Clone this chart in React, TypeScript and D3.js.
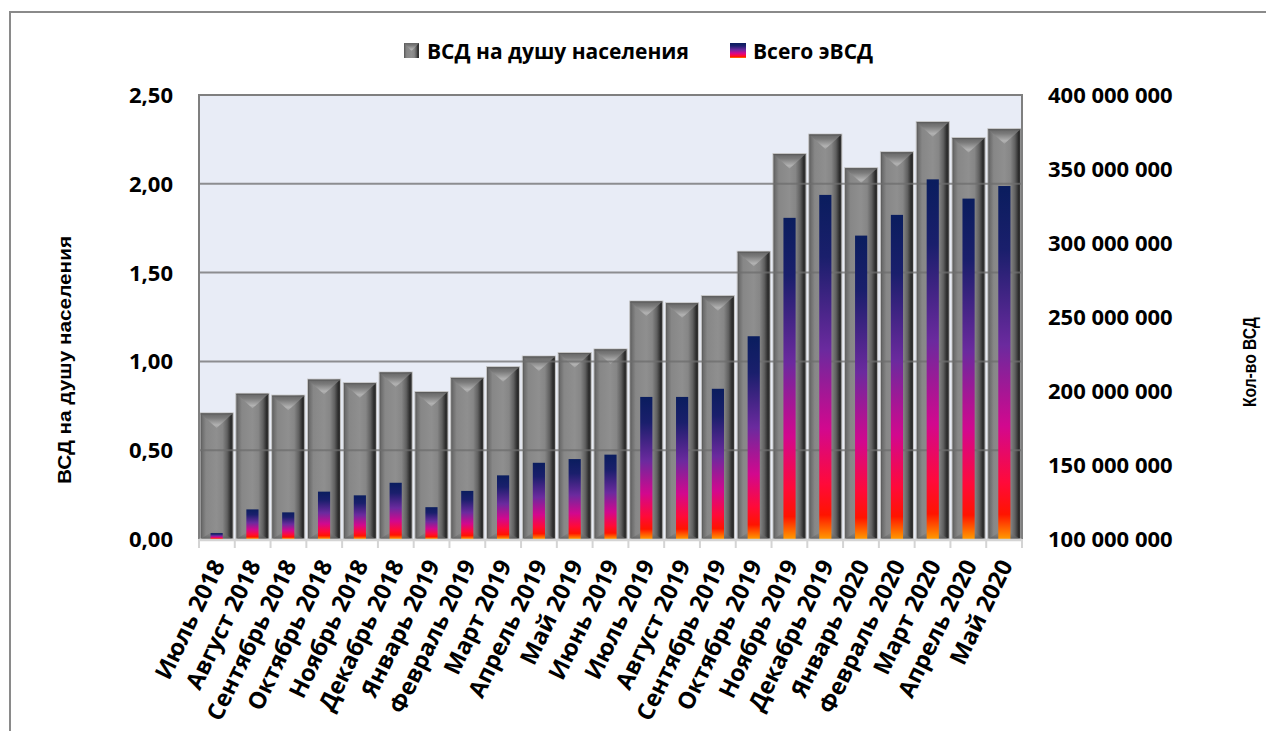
import React from "react";
import * as d3 from "d3";

const categories = [
  "Июль 2018", "Август 2018", "Сентябрь 2018", "Октябрь 2018", "Ноябрь 2018", "Декабрь 2018",
  "Январь 2019", "Февраль 2019", "Март 2019", "Апрель 2019", "Май 2019", "Июнь 2019",
  "Июль 2019", "Август 2019", "Сентябрь 2019", "Октябрь 2019", "Ноябрь 2019", "Декабрь 2019",
  "Январь 2020", "Февраль 2020", "Март 2020", "Апрель 2020", "Май 2020",
];
const perCapita = [
  0.71, 0.82, 0.81, 0.9, 0.88, 0.94, 0.83, 0.91, 0.97, 1.03, 1.05, 1.07,
  1.34, 1.33, 1.37, 1.62, 2.17, 2.28, 2.09, 2.18, 2.35, 2.26, 2.31,
];
const totalEVSD = [
  104e6, 120e6, 118e6, 132e6, 129.5e6, 138e6, 121.5e6, 132.5e6, 143e6, 151.5e6, 154e6, 157e6,
  196e6, 196e6, 201.5e6, 237e6, 317e6, 332.5e6, 305e6, 319e6, 343e6, 330e6, 338.5e6,
];
const leftTicks = [0, 0.5, 1, 1.5, 2, 2.5];
const rightTicks = [100e6, 150e6, 200e6, 250e6, 300e6, 350e6, 400e6];
const seriesNames = ["ВСД на душу населения", "Всего эВСД"];
const leftTitle = "ВСД на душу населения";
const rightTitle = "Кол-во ВСД";

const W = 1266;
const H = 731;
const plot = { left: 199, right: 1022, top: 95, bottom: 539 };
const FONT = "'Open Sans', 'Noto Sans', sans-serif";

export default function App() {
  const x = d3
    .scaleBand<string>()
    .domain(categories)
    .range([plot.left, plot.right])
    .paddingInner(0.075)
    .paddingOuter(0.03);
  const yL = d3.scaleLinear().domain([0, 2.5]).range([plot.bottom, plot.top]);
  const yR = d3.scaleLinear().domain([100e6, 400e6]).range([plot.bottom, plot.top]);
  const step = x.step();
  const bw = x.bandwidth();
  const cw = step * 0.34;
  const fmtL = (v: number) => d3.format(".2f")(v).replace(".", ",");
  const fmtR = (v: number) => d3.format(",.0f")(v).replace(/,/g, " ");
  const boundaries = d3.range(categories.length + 1).map((i) => plot.left + ((plot.right - plot.left) * i) / categories.length);

  return (
    <svg width={W} height={H} style={{ display: "block", position: "absolute", left: 0, top: 0 }}>
      <defs>
        <linearGradient id="grayH" x1="0" y1="0" x2="1" y2="0">
          <stop offset="0" stopColor="#4e4e4e" />
          <stop offset="0.06" stopColor="#6c6c6c" />
          <stop offset="0.18" stopColor="#878787" />
          <stop offset="0.5" stopColor="#8f8f8f" />
          <stop offset="0.68" stopColor="#868686" />
          <stop offset="0.82" stopColor="#606060" />
          <stop offset="0.93" stopColor="#2a2a2a" />
          <stop offset="1" stopColor="#3a3a3a" />
        </linearGradient>
        <linearGradient id="grayTop" x1="0" y1="0" x2="0" y2="1">
          <stop offset="0" stopColor="#666666" />
          <stop offset="0.3" stopColor="#7a7a7a" />
          <stop offset="0.8" stopColor="#b2b2b2" />
          <stop offset="1" stopColor="#a0a0a0" />
        </linearGradient>
        <linearGradient id="grayBot" x1="0" y1="0" x2="0" y2="1">
          <stop offset="0" stopColor="#8c8c8c" stopOpacity="0" />
          <stop offset="1" stopColor="#5a5a5a" stopOpacity="0.8" />
        </linearGradient>
        <linearGradient id="colorV" x1="0" y1="0" x2="0" y2="1">
          <stop offset="0" stopColor="#0a1d5e" />
          <stop offset="0.18" stopColor="#1a1f6c" />
          <stop offset="0.45" stopColor="#6b2a9e" />
          <stop offset="0.68" stopColor="#d2088e" />
          <stop offset="0.84" stopColor="#ff0a3a" />
          <stop offset="0.93" stopColor="#ff1400" />
          <stop offset="1" stopColor="#ff9a00" />
        </linearGradient>
      </defs>

      <rect x={0} y={0} width={W} height={H} fill="#ffffff" />
      <rect x={10} y={12} width={W + 20} height={H + 20} fill="#ffffff" stroke="#8a8a8a" strokeWidth={2} />

      {/* legend */}
      <g fontFamily={FONT} fontWeight="bold" fontSize={21} fill="#000">
        <rect x={404} y={43} width={15} height={15} fill="url(#grayH)" />
        <polygon points="404,43 419,43 411.5,51" fill="url(#grayTop)" />
        <text x={427} y={59}>{seriesNames[0]}</text>
        <rect x={730} y={43} width={16} height={15} fill="url(#colorV)" />
        <text x={753} y={59}>{seriesNames[1]}</text>
      </g>

      {/* plot background */}
      <rect x={plot.left} y={plot.top} width={plot.right - plot.left} height={plot.bottom - plot.top} fill="#e8ecf6" />

      {/* gray bars */}
      {categories.map((c, i) => {
        const bx = x(c)!;
        const by = yL(perCapita[i]);
        const bh = plot.bottom - by;
        return (
          <g key={"g" + c}>
            <rect x={bx} y={by} width={bw} height={bh} fill="url(#grayH)" stroke="#c6c6c6" strokeWidth={1} />
            <polygon points={`${bx + 0.5},${by + 0.5} ${bx + bw - 0.5},${by + 0.5} ${bx + bw / 2},${by + 15}`} fill="url(#grayTop)" />
            <line x1={bx + 0.5} x2={bx + bw - 0.5} y1={by + 1} y2={by + 1} stroke="#5c5c5c" strokeWidth={1} />
            <polygon points={`${bx + 0.5},${plot.bottom} ${bx + bw - 0.5},${plot.bottom} ${bx + bw / 2},${plot.bottom - 10}`} fill="url(#grayBot)" />
          </g>
        );
      })}

      {/* gridlines */}
      {leftTicks.slice(1, -1).map((t) => (
        <line key={"gl" + t} x1={plot.left} x2={plot.right} y1={yL(t)} y2={yL(t)} stroke="#6e6e6e" strokeOpacity={0.75} strokeWidth={2} />
      ))}

      {/* colored bars */}
      {categories.map((c, i) => {
        const cx = x(c)! + bw / 2;
        const by = yR(totalEVSD[i]);
        return <rect key={"c" + c} x={cx - cw / 2} y={by} width={cw} height={plot.bottom - by} fill="url(#colorV)" />;
      })}

      {/* plot border */}
      <path d={`M${plot.left},${plot.bottom} V${plot.top} H${plot.right} V${plot.bottom}`} fill="none" stroke="#7f7f7f" strokeWidth={2} />
      <line x1={plot.left} x2={plot.right} y1={plot.bottom + 1} y2={plot.bottom + 1} stroke="#d4d4d4" strokeWidth={2.5} />
      {boundaries.map((bxv, i) => (
        <line key={"tk" + i} x1={bxv} x2={bxv} y1={plot.bottom} y2={plot.bottom + 9} stroke="#d4d4d4" strokeWidth={2} />
      ))}

      {/* axis labels */}
      <g fontFamily={FONT} fontWeight="bold" fontSize={22} fill="#000">
        {leftTicks.map((t) => (
          <text key={"l" + t} x={173} y={yL(t)} dy="0.36em" textAnchor="end">{fmtL(t)}</text>
        ))}
        {rightTicks.map((t) => (
          <text key={"r" + t} x={1048} y={yR(t)} dy="0.36em" textAnchor="start">{fmtR(t)}</text>
        ))}
      </g>
      <g fontFamily={FONT} fontWeight="bold" fontSize={23.5} fill="#000">
        {categories.map((c) => {
          const cx = x(c)! + bw / 2 + 9;
          const cy = plot.bottom + 26;
          return (
            <text key={"x" + c} x={cx} y={cy} textAnchor="end" transform={`rotate(-64 ${cx} ${cy})`}>{c}</text>
          );
        })}
      </g>

      {/* axis titles */}
      <g fontFamily="'Liberation Sans', Arial, sans-serif" fontWeight="bold" fontSize={17.5} fill="#000">
        <text x={0} y={0} textAnchor="middle" transform="translate(71,360) rotate(-90)" textLength={248} lengthAdjust="spacingAndGlyphs">{leftTitle}</text>
        <text x={0} y={0} textAnchor="middle" transform="translate(1256,362) rotate(-90)" textLength={90} lengthAdjust="spacingAndGlyphs">{rightTitle}</text>
      </g>
    </svg>
  );
}
